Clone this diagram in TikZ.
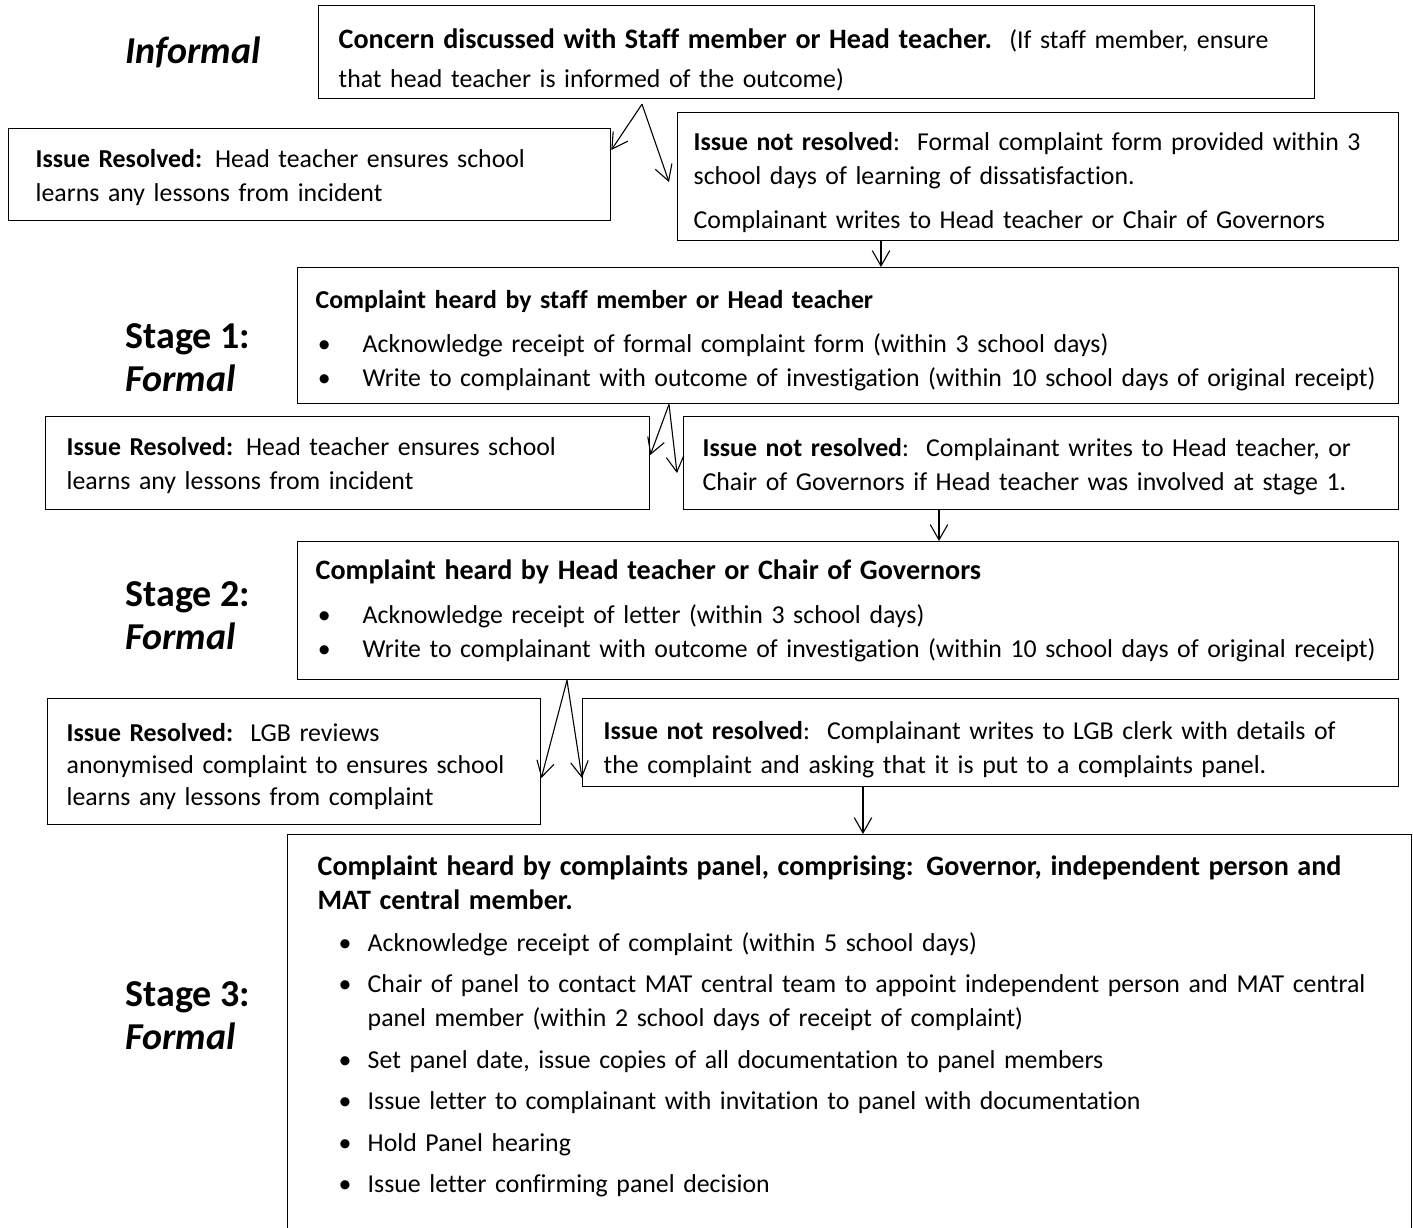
\documentclass[tikz,border=0pt]{standalone}
\usepackage{fontspec}
\setmainfont{Carlito}[Ligatures=NoCommon]
\usepackage{enumitem}
\usepackage{tikz}
\usetikzlibrary{arrows.meta,positioning,calc}

\newcommand{\pxu}{0.4553pt}
\newcommand{\stephead}{\fontsize{12.8}{16}\selectfont\bfseries}
\newcommand{\topgap}[1]{\rule{0pt}{#1}}
\newlist{steps}{itemize}{1}
\setlist[steps]{label=\textbullet, align=left, leftmargin=21.4pt, labelindent=1pt, labelwidth=8pt, labelsep=*, topsep=4.5pt, partopsep=0pt, itemsep=0pt, parsep=0pt}

\begin{document}
\begin{tikzpicture}[
    x=\pxu, y=-\pxu,
    box/.style={rectangle, draw=black, line width=0.6pt, anchor=north west, align=left, font=\fontsize{11.75}{15.5}\selectfont},
    panel/.style n args={3}{box, minimum width=#1*\pxu, minimum height=#2*\pxu, inner xsep=#3*\pxu, text width=(#1-2*#3)*\pxu},
    stage/.style={anchor=west, align=left, inner xsep=0pt, font=\fontsize{17.3}{19.5}\selectfont\bfseries},
    arr/.style={-{Straight Barb[length=7pt,width=8pt]}, line width=0.5pt}
]
\useasboundingbox (0,0) rectangle (1413,1228);
\clip (0,0) rectangle (1413,1228);

% Informal
\node[stage] (informal) at (125,52) {\textit{Informal}};
\node[panel={996}{92}{20}, font=\fontsize{11.75}{18}\selectfont] (concern) at (318,5) {\topgap{16pt}{\stephead Concern discussed with Staff member or Head teacher.}\ \ (If staff member, ensure\\ that head teacher is informed of the outcome)};
\node[panel={602}{92}{27}] (resolvedone) at (8,128) {\topgap{11pt}\textbf{Issue Resolved:} Head teacher ensures school\\ learns any lessons from incident};
\node[panel={721}{121}{16}] (notresone) at (677,112) {\topgap{14pt}\textbf{Issue not resolved}:\ \ Formal complaint form provided within 3\\ school days of learning of dissatisfaction.\\[4.5pt] Complainant writes to Head teacher or Chair of Governors};

% Stage 1
\node[stage] (stageonelbl) at (125,358) {Stage 1:\\\textit{Formal}};
\node[panel={1101}{136}{18}] (stageone) at (297,267) {\topgap{12.4pt}\textbf{Complaint heard by staff member or Head teacher}
\begin{steps}
\item Acknowledge receipt of formal complaint form (within 3 school days)
\item Write to complainant with outcome of investigation (within 10 school days of original receipt)
\end{steps}};
\node[panel={604}{93}{21}] (resolvedtwo) at (45,416) {\topgap{10.6pt}\textbf{Issue Resolved:} Head teacher ensures school\\ learns any lessons from incident};
\node[panel={715}{93}{19}] (notrestwo) at (683,416) {\topgap{11pt}\textbf{Issue not resolved}:\ \ Complainant writes to Head teacher, or\\ Chair of Governors if Head teacher was involved at stage 1.};

% Stage 2
\node[stage] (stagetwolbl) at (125,616) {Stage 2:\\\textit{Formal}};
\node[panel={1101}{138}{18}] (stagetwo) at (297,541) {{\stephead Complaint heard by Head teacher or Chair of Governors}
\begin{steps}
\item Acknowledge receipt of letter (within 3 school days)
\item Write to complainant with outcome of investigation (within 10 school days of original receipt)
\end{steps}};
\node[panel={493}{126}{19}, font=\fontsize{11.75}{14.6}\selectfont] (resolvedthree) at (47,698) {\topgap{12.4pt}\textbf{Issue Resolved:}\ \ LGB reviews\\ anonymised complaint to ensures school\\ learns any lessons from complaint};
\node[panel={816}{88}{21}] (notresthree) at (582,698) {\topgap{14.3pt}\textbf{Issue not resolved}:\ \ Complainant writes to LGB clerk with details of\\ the complaint and asking that it is put to a complaints panel.};

% Stage 3
\node[stage] (stagethreelbl) at (125,1016) {Stage 3:\\\textit{Formal}};
\node[box, inner xsep=30*\pxu, inner ysep=9.5pt, text width=1064*\pxu] (stagethree) at (287,834) {{\stephead Complaint heard by complaints panel, comprising: Governor, independent person and\\ MAT central member.}
\begin{steps}[leftmargin=22.8pt, labelindent=9.6pt, topsep=3.5pt, itemsep=3.4pt]
\item Acknowledge receipt of complaint (within 5 school days)
\item Chair of panel to contact MAT central team to appoint independent person and MAT central\newline panel member (within 2 school days of receipt of complaint)
\item Set panel date, issue copies of all documentation to panel members
\item Issue letter to complainant with invitation to panel with documentation
\item Hold Panel hearing
\item Issue letter confirming panel decision
\end{steps}
\par\rule{0pt}{36pt}};

% Connections
\coordinate (forkone) at ($(concern.south -| 642,0)+(0,5)$);
\draw[arr] (forkone) -- (resolvedone.east |- 0,150);
\draw[arr] (forkone) -- ($(notresone.west |- 0,182)+(-8,0)$);
\draw[arr] (notresone.south -| 881,0) -- (stageone.north -| 881,0);

\coordinate (forktwo) at (stageone.south -| 669,0);
\draw[arr] (forktwo) -- (resolvedtwo.east |- 0,455);
\draw[arr] (forktwo) -- ($(notrestwo.west |- 0,473)+(-6,0)$);
\draw[arr] (notrestwo.south -| 939,0) -- (stagetwo.north -| 939,0);

\coordinate (forkthree) at (stagetwo.south -| 567,0);
\draw[arr] (forkthree) -- (resolvedthree.east |- 0,778);
\draw[arr] (forkthree) -- (notresthree.west |- 0,778);
\draw[arr] (notresthree.south -| 863,0) -- (stagethree.north -| 863,0);

\end{tikzpicture}
\end{document}
